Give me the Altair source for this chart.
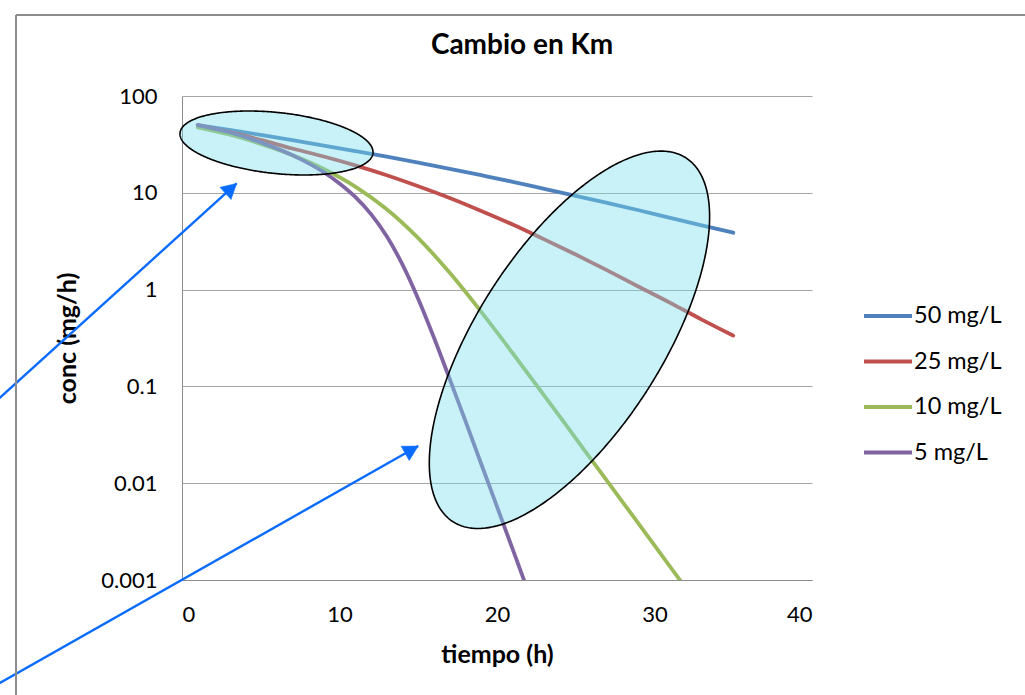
import numpy as np
import pandas as pd
import altair as alt

FONT = "Lato"

# Concentration time courses (mg/h) for each Km
t_50 = [1, 3, 5, 7, 9, 11, 13, 15, 17, 19, 21, 23, 25, 27, 29, 31, 33, 35]
c_50 = [50, 44.6, 39.6, 35.0, 30.8, 27.0, 23.6, 20.5, 17.7, 15.2, 13.0, 11.0,
        9.3, 7.85, 6.6, 5.5, 4.6, 3.87]

t_25 = [1, 3, 5, 7, 9, 11, 13, 15, 17, 19, 21, 23, 25, 27, 29, 31, 33, 35]
c_25 = [50, 42.5, 35.2, 28.7, 23.7, 19.2, 15.2, 11.7, 8.85, 6.5, 4.7, 3.3,
        2.3, 1.58, 1.07, 0.73, 0.49, 0.335]

t_10 = [1, 3, 5, 7, 9, 11, 13, 15, 17, 19, 21, 23, 25, 27, 29, 31, 32]
c_10 = [47.5, 40.0, 32.0, 24.5, 17.6, 11.6, 6.76, 3.4, 1.49, 0.588, 0.22,
        0.0805, 0.0291, 0.0105, 0.0038, 0.00137, 0.00082]

t_5 = [1, 3, 5, 7, 9, 10, 11, 12, 13, 14, 15, 16, 17, 18, 19, 20, 21, 22]
c_5 = [50, 42.2, 33.2, 24.5, 16.3, 12.5, 9.07, 6.02, 3.55, 1.81, 0.8, 0.318,
       0.119, 0.0437, 0.0158, 0.00573, 0.00207, 0.000745]

series_names = ["50 mg/L", "\u2009\u200925 mg/L", "10 mg/L", "5 mg/L"]
series_colors = ["#4F81BD", "#C0504D", "#9BBB59", "#8064A2"]

x_ticks = [0, 10, 20, 30, 40]
y_ticks = [0.001, 0.01, 0.1, 1, 10, 100]

chart_title = "Cambio en Km"

# Highlight ellipses: centre (h, mg/h), semi-axes (px), tilt (deg)
ell_center_t = [6.0, 24.6]
ell_center_c = [32.7, 0.303]
ell_semi_a = [97, 216]
ell_semi_b = [30.5, 92.7]
ell_tilt = [-6, 57.4]

# Pointer arrows: tail and head in data units
arrow_tail_t = [-11.9, -11.9]
arrow_tail_c = [0.0682, 8.05e-5]
arrow_head_t = [3.47, 15.0]
arrow_head_c = [12.5, 0.0242]

W, H = 630, 484
PAD_L, PAD_T = 182, 96
X_DOMAIN = [0, 40]
Y_DOMAIN = [0.001, 100]
px_per_h = W / (X_DOMAIN[1] - X_DOMAIN[0])
px_per_dec = H / (np.log10(Y_DOMAIN[1]) - np.log10(Y_DOMAIN[0]))

rows = []
for name, ts, cs in zip(series_names, [t_50, t_25, t_10, t_5], [c_50, c_25, c_10, c_5]):
    for t, c in zip(ts, cs):
        rows.append({"serie": name, "t": t, "conc": c})
df = pd.DataFrame(rows)

x_scale = alt.Scale(domain=X_DOMAIN, nice=False, zero=False)
y_scale = alt.Scale(type="log", domain=Y_DOMAIN, nice=False)

x_enc = alt.X("t:Q", scale=x_scale,
              axis=alt.Axis(values=x_ticks, title="tiempo (h)", grid=False,
                            ticks=False, tickSize=0, labelPadding=24,
                            titlePadding=17, domainColor="#8C8C8C",
                            labelFontSize=22, titleFontSize=25))
y_enc = alt.Y("conc:Q", scale=y_scale,
              axis=alt.Axis(values=y_ticks, format="~g", title="conc (mg/h)",
                            grid=True, gridColor="#A6A6A6", ticks=False,
                            tickSize=0, labelPadding=25, titlePadding=20,
                            domainColor="#8C8C8C", labelFontSize=22,
                            titleFontSize=25))

lines = alt.Chart(df).mark_line(strokeWidth=3.8, strokeCap="round",
                                strokeJoin="round", clip=True,
                                interpolate="monotone").encode(
    x=x_enc,
    y=y_enc,
    color=alt.Color("serie:N",
                    scale=alt.Scale(domain=series_names, range=series_colors),
                    sort=series_names,
                    legend=alt.Legend(orient="none", legendX=680, legendY=194,
                                      title=None, symbolType="stroke",
                                      symbolSize=2304, symbolStrokeWidth=4,
                                      labelFont=FONT, labelFontSize=23.5,
                                      labelColor="#000000", labelOffset=0,
                                      rowPadding=7.5, padding=0)),
)


def ellipse_band(tc, cc, a, b, tilt):
    th = np.radians(tilt)
    half_w = np.sqrt((a * np.cos(th)) ** 2 + (b * np.sin(th)) ** 2)
    s = np.linspace(0, np.pi, 241)
    X = -half_w * np.cos(s)
    A = np.sin(th) ** 2 / a ** 2 + np.cos(th) ** 2 / b ** 2
    B = 2 * X * np.sin(th) * np.cos(th) * (1 / a ** 2 - 1 / b ** 2)
    C = X ** 2 * (np.cos(th) ** 2 / a ** 2 + np.sin(th) ** 2 / b ** 2) - 1
    disc = np.sqrt(np.clip(B ** 2 - 4 * A * C, 0, None))
    y_lo = (-B - disc) / (2 * A)
    y_hi = (-B + disc) / (2 * A)
    lc = np.log10(cc)
    return pd.DataFrame({
        "t": tc + X / px_per_h,
        "lo": 10 ** (lc + y_lo / px_per_dec),
        "hi": 10 ** (lc + y_hi / px_per_dec),
    })


ellipses = []
for tc, cc, a, b, tilt in zip(ell_center_t, ell_center_c, ell_semi_a, ell_semi_b, ell_tilt):
    band = ellipse_band(tc, cc, a, b, tilt)
    ellipses.append(
        alt.Chart(band).mark_area(fill="#76DEEE", fillOpacity=0.4,
                                  stroke="#000000", strokeWidth=1.6).encode(
            x=alt.X("t:Q", scale=x_scale),
            y=alt.Y("lo:Q", scale=y_scale),
            y2="hi:Q",
        )
    )

arrow_rows = []
head_rows = []
for i, (t0, c0, t1, c1) in enumerate(zip(arrow_tail_t, arrow_tail_c, arrow_head_t, arrow_head_c)):
    arrow_rows.append({"id": i, "t": t0, "conc": c0})
    arrow_rows.append({"id": i, "t": t1, "conc": c1})
    dx = (t1 - t0) * px_per_h
    dy = (np.log10(c1) - np.log10(c0)) * px_per_dec
    head_rows.append({"t": t1, "conc": c1, "ang": float(np.degrees(np.arctan2(dx, dy)))})
arrow_df = pd.DataFrame(arrow_rows)
head_df = pd.DataFrame(head_rows)

ARROW_BLUE = "#0A6CFF"
arrow_lines = alt.Chart(arrow_df).mark_line(color=ARROW_BLUE, strokeWidth=2.4).encode(
    x=alt.X("t:Q", scale=x_scale),
    y=alt.Y("conc:Q", scale=y_scale),
    detail="id:N",
)
arrow_heads = alt.Chart(head_df).mark_point(
    shape="M0,0 L-0.55,1 L0.55,1 Z", filled=True, fill=ARROW_BLUE,
    stroke=ARROW_BLUE, strokeWidth=0.5, opacity=1, size=900,
).encode(
    x=alt.X("t:Q", scale=x_scale),
    y=alt.Y("conc:Q", scale=y_scale),
    angle=alt.Angle("ang:Q", scale=None),
)

# Chart-area frame (top and left edges) and chart title
one_row = pd.DataFrame({"k": [0]})
frame_top = alt.Chart(one_row).mark_rule(color="#8C8C8C", strokeWidth=2).encode(
    x=alt.value(16 - PAD_L), x2=alt.value(W + 260), y=alt.value(15 - PAD_T))
frame_left = alt.Chart(one_row).mark_rule(color="#8C8C8C", strokeWidth=2).encode(
    x=alt.value(16 - PAD_L), y=alt.value(15 - PAD_T), y2=alt.value(H + 200))
title_text = alt.Chart(one_row).mark_text(
    text=chart_title, font=FONT, fontSize=28, fontWeight="bold",
    align="center", baseline="middle", color="#000000",
).encode(x=alt.value(522 - PAD_L), y=alt.value(46 - PAD_T))

chart = alt.layer(
    lines, *ellipses, arrow_lines, arrow_heads, frame_top, frame_left, title_text
).properties(
    width=W,
    height=H,
    padding={"left": PAD_L, "top": PAD_T, "right": 1025 - PAD_L - W,
             "bottom": 695 - PAD_T - H},
    autosize=alt.AutoSizeParams(type="none"),
).configure(
    font=FONT,
    background="#FFFFFF",
).configure_view(
    stroke=None,
).configure_axis(
    labelFont=FONT,
    titleFont=FONT,
    labelColor="#000000",
    titleColor="#000000",
    titleFontWeight="bold",
)

chart.save("out.html", embed_options={"renderer": "svg", "actions": False})
